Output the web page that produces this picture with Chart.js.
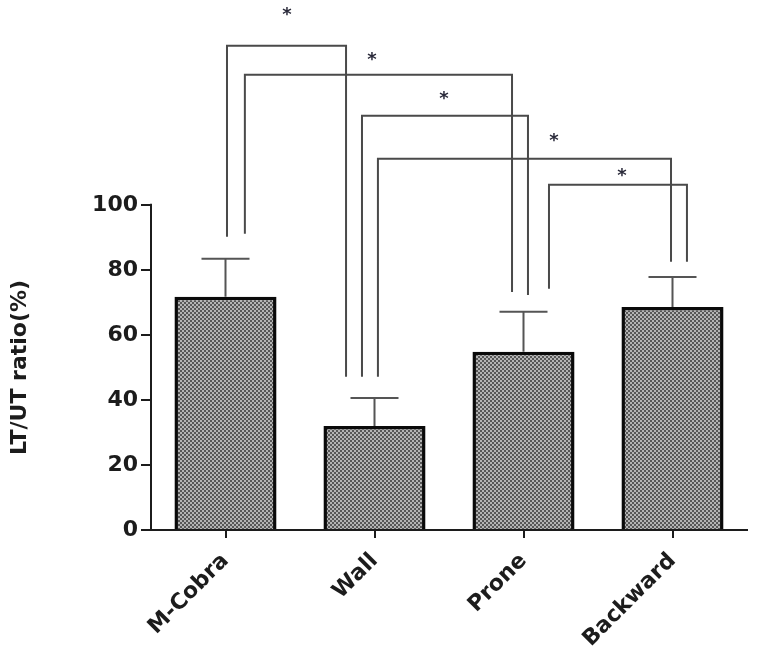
<!DOCTYPE html>
<html>
<head>
<meta charset="utf-8">
<script src="https://cdn.jsdelivr.net/npm/chart.js@4.4.1/dist/chart.umd.min.js"></script>
<style>
  html, body { margin: 0; padding: 0; background: #ffffff; }
  #wrap { width: 759px; height: 651px; }
</style>
</head>
<body>
<div id="wrap"><canvas id="c" width="759" height="651"></canvas></div>
<script>
// ---- data ----
const categories = ['M-Cobra', 'Wall', 'Prone', 'Backward'];
const meanRatio = [71.7, 32.0, 54.8, 68.6];
const sdRatio = [11.7, 8.6, 12.3, 9.2];
const yTickValues = [0, 20, 40, 60, 80, 100];
const yAxisTitle = 'LT/UT ratio(%)';

// significance brackets (x in category units, y in axis units)
const bracketLeftX = [0.01, 0.13, 0.916, 1.023, 2.171];
const bracketRightX = [0.809, 1.923, 2.03, 2.99, 3.097];
const bracketTopY = [148.9, 140.0, 127.4, 114.2, 106.2];
const bracketLeftEndY = [90.2, 91.1, 47.1, 47.1, 74.2];
const bracketRightEndY = [47.1, 73.2, 72.3, 82.5, 82.5];
const starLabels = ['*', '*', '*', '*', '*'];
const starX = [0.413, 0.983, 1.466, 2.205, 2.661];
const starY = [159.4, 145.5, 133.5, 120.6, 109.8];

// ---- fill pattern for bars ----
function makePattern(ctx) {
  const p = document.createElement('canvas');
  p.width = 4; p.height = 4;
  const g = p.getContext('2d');
  g.fillStyle = '#575757';
  g.fillRect(0, 0, 4, 4);
  g.fillStyle = '#b4b4b4';
  g.fillRect(0, 0, 2, 2);
  g.fillRect(2, 2, 2, 2);
  return ctx.createPattern(p, 'repeat');
}

const canvas = document.getElementById('c');
const ctx = canvas.getContext('2d');
const barPattern = makePattern(ctx);
const TEXT = '#1c1c1c';
const FONT_FAMILY = '"DejaVu Sans", Verdana, sans-serif';

const overlayPlugin = {
  id: 'overlay',
  afterDraw(chart) {
    const c = chart.ctx;
    const xs = chart.scales.x, ys = chart.scales.y;
    const area = chart.chartArea;
    c.save();
    // y axis line from 0 to top tick
    c.strokeStyle = TEXT;
    c.lineWidth = 2;
    c.beginPath();
    c.moveTo(area.left, ys.getPixelForValue(0) + 1);
    c.lineTo(area.left, ys.getPixelForValue(yTickValues[yTickValues.length - 1]) - 1);
    c.stroke();

    // error bars (upper only)
    const meta = chart.getDatasetMeta(0);
    c.strokeStyle = '#555555';
    c.lineWidth = 2;
    meta.data.forEach((bar, i) => {
      const x = bar.x;
      const yTop = ys.getPixelForValue(meanRatio[i] + sdRatio[i]);
      const yBar = ys.getPixelForValue(meanRatio[i]);
      c.beginPath();
      c.moveTo(x, yBar);
      c.lineTo(x, yTop);
      c.moveTo(x - 24, yTop);
      c.lineTo(x + 24, yTop);
      c.stroke();
    });

    // brackets
    c.strokeStyle = '#4a4a4a';
    c.lineWidth = 2;
    c.lineJoin = 'miter';
    for (let i = 0; i < bracketTopY.length; i++) {
      const xl = xs.getPixelForValue(bracketLeftX[i]);
      const xr = xs.getPixelForValue(bracketRightX[i]);
      const yt = ys.getPixelForValue(bracketTopY[i]);
      c.beginPath();
      c.moveTo(xl, ys.getPixelForValue(bracketLeftEndY[i]));
      c.lineTo(xl, yt);
      c.lineTo(xr, yt);
      c.lineTo(xr, ys.getPixelForValue(bracketRightEndY[i]));
      c.stroke();
    }

    // stars
    c.fillStyle = '#2a2a3a';
    c.font = 'bold 18px ' + FONT_FAMILY;
    c.textAlign = 'center';
    c.textBaseline = 'alphabetic';
    for (let i = 0; i < starLabels.length; i++) {
      const x = xs.getPixelForValue(starX[i]);
      const y = ys.getPixelForValue(starY[i]);
      c.fillText(starLabels[i], x, y + 8);
    }

    // y axis title, centred on the 0..100 range
    const yMid = (ys.getPixelForValue(0) + ys.getPixelForValue(100)) / 2;
    c.fillStyle = TEXT;
    c.font = 'bold 22px ' + FONT_FAMILY;
    c.translate(20, yMid);
    c.rotate(-Math.PI / 2);
    c.textAlign = 'center';
    c.textBaseline = 'middle';
    c.fillText(yAxisTitle, 0, 0);
    c.restore();
  }
};

new Chart(ctx, {
  type: 'bar',
  data: {
    labels: categories,
    datasets: [{
      data: meanRatio,
      backgroundColor: barPattern,
      borderColor: '#0a0a0a',
      borderWidth: 3.5,
      borderSkipped: 'start',
      categoryPercentage: 1.0,
      barPercentage: 0.685
    }]
  },
  options: {
    responsive: false,
    animation: false,
    devicePixelRatio: 1,
    layout: { padding: { top: 0, right: 12, left: 0, bottom: 0 } },
    plugins: {
      legend: { display: false },
      tooltip: { enabled: false },
      title: { display: false }
    },
    scales: {
      x: {
        offset: true,
        grid: {
          display: true,
          drawOnChartArea: false,
          drawTicks: true,
          tickLength: 8,
          offset: false,
          color: TEXT,
          lineWidth: 2
        },
        border: { display: true, color: TEXT, width: 2 },
        ticks: {
          color: TEXT,
          font: { family: FONT_FAMILY, size: 22, weight: 'bold' },
          minRotation: 45,
          maxRotation: 45,
          padding: 10,
          autoSkip: false
        },
        afterFit(scale) { scale.height = 121; scale.paddingLeft = 0; scale.paddingRight = 0; }
      },
      y: {
        min: 0,
        max: 163,
        grid: {
          display: true,
          drawOnChartArea: false,
          drawTicks: true,
          tickLength: 10,
          color: TEXT,
          lineWidth: 2
        },
        border: { display: false },
        ticks: {
          stepSize: 20,
          color: TEXT,
          padding: 3,
          font: { family: FONT_FAMILY, size: 22, weight: 'bold' }
        },
        afterBuildTicks(scale) {
          scale.ticks = yTickValues.map(v => ({ value: v }));
        },
        afterFit(scale) { scale.width = 151; scale.paddingTop = 0; scale.paddingBottom = 0; }
      }
    }
  },
  plugins: [overlayPlugin]
});
</script>
</body>
</html>
